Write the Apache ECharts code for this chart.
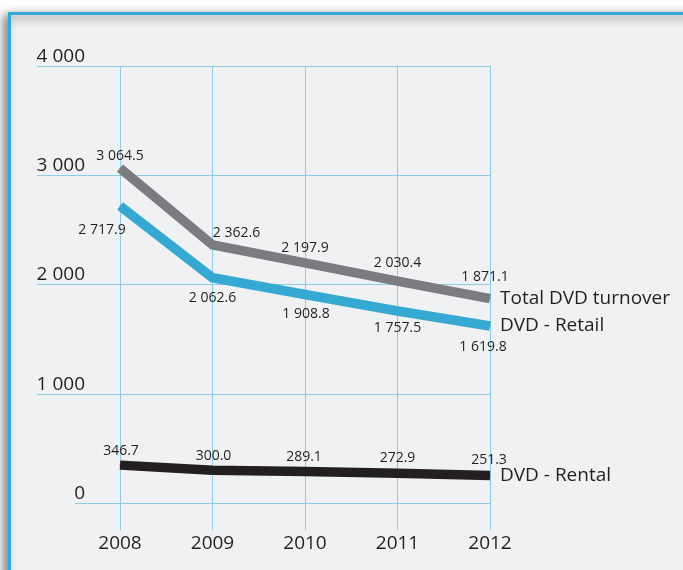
<!DOCTYPE html>
<html><head><meta charset="utf-8">
<script src="https://cdn.jsdelivr.net/npm/echarts@6/dist/echarts.min.js"></script>
<style>html,body{margin:0;padding:0;background:#fff}#c{width:683px;height:570px}</style>
</head><body><div id="c"></div>
<script>
const years = ['2008', '2009', '2010', '2011', '2012'];
const totalTurnover = [3064.5, 2362.6, 2197.9, 2030.4, 1871.1];
const retail = [2717.9, 2062.6, 1908.8, 1757.5, 1619.8];
const rental = [346.7, 300.0, 289.1, 272.9, 251.3];
const yTicks = [0, 1000, 2000, 3000, 4000];
const seriesNames = ['Total DVD turnover', 'DVD - Retail', 'DVD - Rental'];

// label offsets (style only)
const totalOff = [[0,-12],[24,-12],[0,-15],[0,-18],[-5,-22]];
const retailOff = [[-18,24],[0,20],[1,20],[0,17],[-7,21]];
const rentalOff = [[1,-14],[1,-14],[-1,-14],[0,-15],[-1,-16]];

const FONT = '"Open Sans", "Noto Sans", sans-serif';
const TXT = '#231f20';
const GRID_C = '#8ecbe5';

function fmt(v, dec) {
  const s = v.toFixed(dec);
  const parts = s.split('.');
  parts[0] = parts[0].replace(/\B(?=(\d{3})+(?!\d))/g, ' ');
  return parts.join('.');
}

function mkData(vals, offs) {
  return vals.map((v, i) => ({
    value: v,
    label: { offset: offs[i] }
  }));
}

function mkSeries(name, vals, offs, color) {
  return {
    name: name,
    type: 'line',
    xAxisIndex: 0, yAxisIndex: 0,
    data: mkData(vals, offs),
    symbol: 'circle',
    symbolSize: 1,
    showSymbol: true,
    itemStyle: { color: color },
    lineStyle: { color: color, width: 9.5, cap: 'butt', join: 'miter' },
    label: {
      show: true, position: 'inside',
      fontFamily: FONT, fontSize: 14, color: TXT,
      formatter: p => fmt(p.value, 1)
    },
    endLabel: {
      show: true, distance: 10,
      fontFamily: FONT, fontSize: 19, color: TXT,
      formatter: p => p.seriesName
    },
    emphasis: { disabled: true },
    silent: true,
    animation: false,
    z: 5
  };
}

const yMin = yTicks[0], yMax = yTicks[yTicks.length - 1], yInt = yTicks[1] - yTicks[0];

const chart = echarts.init(document.getElementById('c'), null, { renderer: 'canvas' });
chart.setOption({
  animation: false,
  backgroundColor: '#ffffff',
  graphic: [{
    type: 'rect',
    z: -10,
    shape: { x: 9.5, y: 13.5, width: 720, height: 600 },
    style: {
      fill: '#f0f1f3', stroke: '#36a9d3', lineWidth: 3,
      shadowBlur: 10, shadowColor: 'rgba(0,0,0,0.5)', shadowOffsetX: -4, shadowOffsetY: 3
    },
    silent: true
  }],
  grid: [
    { left: 120, right: 193, top: 66, bottom: 67 },
    { left: 37, right: 193, top: 66, bottom: 67 },
    { left: 75, right: 193, top: 66, bottom: 67 }
  ],
  xAxis: [
    {
      type: 'category', gridIndex: 0, data: years, boundaryGap: false,
      axisLine: { show: false },
      axisTick: { show: true, length: 27, alignWithLabel: true, lineStyle: { color: GRID_C, width: 1 } },
      axisLabel: { margin: 31, fontFamily: FONT, fontSize: 19, color: TXT },
      splitLine: { show: true, lineStyle: { color: GRID_C, width: 1 } }
    },
    { type: 'value', gridIndex: 1, show: false, min: 0, max: 1 },
    { type: 'value', gridIndex: 2, show: false, min: 0, max: 1 }
  ],
  yAxis: [
    {
      type: 'value', gridIndex: 0, min: yMin, max: yMax, interval: yInt,
      axisLine: { show: false }, axisTick: { show: false },
      splitLine: { show: false },
      axisLabel: {
        margin: 35, fontFamily: FONT, fontSize: 19, color: TXT,
        verticalAlign: 'bottom', padding: [0, 0, 0, 0],
        formatter: v => fmt(v, 0)
      }
    },
    {
      type: 'value', gridIndex: 1, min: yMin, max: yMax, interval: yInt,
      axisLine: { show: false }, axisTick: { show: false }, axisLabel: { show: false },
      splitLine: { show: true, lineStyle: { color: ['rgba(0,0,0,0)', GRID_C, GRID_C, GRID_C, GRID_C], width: 1 } }
    },
    {
      type: 'value', gridIndex: 2, min: yMin, max: yMax, interval: yInt,
      axisLine: { show: false }, axisTick: { show: false }, axisLabel: { show: false },
      splitLine: { show: true, lineStyle: { color: [GRID_C, 'rgba(0,0,0,0)', 'rgba(0,0,0,0)', 'rgba(0,0,0,0)', 'rgba(0,0,0,0)'], width: 1 } }
    }
  ],
  series: [
    mkSeries(seriesNames[0], totalTurnover, totalOff, '#7b7c80'),
    mkSeries(seriesNames[1], retail, retailOff, '#35a9d1'),
    mkSeries(seriesNames[2], rental, rentalOff, '#231f20')
  ]
});
</script>
</body></html>
